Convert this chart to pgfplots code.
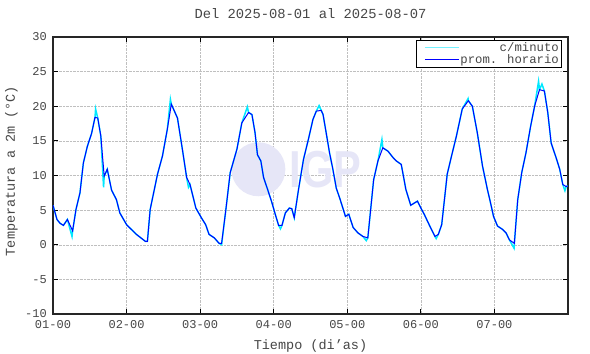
\documentclass[border=0pt]{standalone}
\usepackage{fontspec}
\setmainfont{Liberation Mono}
\newfontfamily\wmfont{Liberation Sans}
\usepackage{pgfplots}
\pgfplotsset{compat=1.18}
\definecolor{txt}{RGB}{70,70,70}
\definecolor{cmin}{RGB}{0,232,255}
\definecolor{wm}{RGB}{230,230,247}
\begin{document}
\begin{tikzpicture}
\path[use as bounding box] (-53pt,-40pt) rectangle (537pt,314pt);
\begin{axis}[
  at={(0pt,0pt)}, anchor=south west,
  scale only axis, width=515pt, height=277pt,
  xmin=0, xmax=168, ymin=-10, ymax=30,
  xtick={0,24,48,72,96,120,144},
  xticklabels={01-00,02-00,03-00,04-00,05-00,06-00,07-00},
  ytick={-10,-5,0,5,10,15,20,25,30},
  grid=major, grid style={densely dotted, gray!50, line width=0.5pt},
  tick align=inside, major tick length=5pt,
  tick style={black, line width=0.8pt},
  axis line style={line width=1.3pt, black!85},
  /pgf/number format/assume math mode=true,
  ticklabel style={font=\fontsize{12}{12}\selectfont, text=txt},
  xticklabel style={anchor=base, yshift=-14pt},
  yticklabel style={anchor=east, inner sep=0pt, xshift=-6pt},
  xlabel={Tiempo (di'as)},
  ylabel={Temperatura a 2m (°C)},
  xlabel style={at={(axis description cs:0.5,0)}, anchor=base, yshift=-35.5pt, font=\fontsize{13.5}{14}\selectfont, text=txt},
  ylabel style={at={(axis description cs:-0.0738,0.516)}, anchor=base, rotate=0, font=\fontsize{13.5}{14}\selectfont, text=txt},
  title={Del 2025-08-01 al 2025-08-07},
  title style={at={(axis description cs:0.5,1)}, anchor=base, yshift=13pt, font=\fontsize{13.8}{14}\selectfont, text=txt},
  legend cell align=right,
  legend style={at={(rel axis cs:0.9864,0.989)}, anchor=north east,
    font=\fontsize{12.3}{13}\selectfont, inner sep=1pt, row sep=0pt,
    nodes={inner sep=1pt, text=txt}},
]
\fill[wm] (axis cs:67,10.9) circle[radius=27pt];
\node[text=wm, font=\wmfont\bfseries\fontsize{52}{52}\selectfont, xscale=0.8] at (axis cs:89,10.9) {IGP};
\addplot[cmin, line width=1.5pt, forget plot] coordinates {
(0,5.7) (1.3,3.65) (2.3,3.1) (3.4,2.8) (4.7,3.65) (6.2,1.2) (6.4,2.0) (7.5,5.1) (8.8,7.5) (9.9,11.8)
(11.2,14.2) (12.6,16.1) (13.7,18.4) (13.9,19.6) (14.6,18.3) (15.6,15.7) (16.5,8.3) (16.7,9.9) (17.7,10.9)
(19.1,7.9) (20.7,6.5) (21.8,4.6) (24.0,2.9) (27.2,1.5) (30.1,0.5) (30.8,0.5) (31.7,5.1) (34.1,10.2)
(35.7,12.8) (37.3,16.7) (38.3,21.0) (38.6,20.3) (40.6,18.3) (42.2,13.8) (43.6,9.7) (44.2,8.3) (44.7,8.7)
(46.6,5.3) (48.4,3.9) (49.8,2.9) (50.9,1.5) (52.6,1.0) (54.2,0.2) (55.0,0.0) (56.4,5.1) (57.8,10.4)
(60,13.8) (61.6,17.6) (63.4,19.9) (63.8,19.1) (64.9,18.8) (65.9,16.2) (66.7,13.0) (67.8,12.1) (68.7,9.7)
(70,8.0) (71.4,6.1) (72.5,4.4) (73.6,2.8) (74.2,2.3) (74.7,2.8) (75.8,4.6) (77.1,5.3) (77.9,5.2) (78.7,3.9)
(80.1,8.0) (81.7,12.3) (83.3,15.2) (84.8,18.1) (85.9,19.3) (86.8,20.1) (87.5,19.4) (88.1,18.8) (89.1,16.2)
(90.2,13.3) (91.3,10.9) (92.4,8.2) (93.7,6.5) (95.4,4.1) (96.5,4.4) (97.9,2.5) (99.5,1.7) (101.1,1.2)
(102.2,0.6) (102.7,1.0) (104.6,9.4) (106,12.1) (107.3,15.2) (107.6,14.0) (109.3,13.5) (110.9,12.6)
(112,12.1) (113.6,11.6) (114.4,9.7) (115.1,8.0) (116.7,5.7) (118.9,6.3) (120,5.3) (121.1,4.4) (122.7,2.9)
(124.6,1.2) (125.0,0.9) (125.7,1.5) (126.8,2.9) (128.6,10.2) (130,12.8) (131.6,15.7) (133.5,19.6)
(135.4,21.1) (135.5,20.8) (136.8,20.0) (138.4,16.2) (140.1,11.4) (141.7,8.0) (142.6,6.3) (143.7,4.1)
(145,2.7) (146.7,2.2) (147.8,1.7) (148.9,0.7) (150.4,-0.5) (150.5,0.2) (151.6,6.5) (152.9,10.4)
(154.3,13.3) (155.8,17.1) (157.1,20.0) (158.4,23.6) (158.7,22.4) (159.5,23.2) (160.3,22.2) (161.4,19.1)
(162.5,14.7) (164.1,12.6) (165.3,10.9) (166.3,8.7) (167.0,7.8) (167.4,8.4) (167.9,8.5)
};
\addplot[blue, line width=1pt, forget plot] coordinates {
(0,5.7) (1.3,3.65) (2.3,3.1) (3.4,2.8) (4.7,3.65) (6.4,2.0) (7.5,5.1) (8.8,7.5) (9.9,11.8)
(11.2,14.2) (12.6,16.1) (13.7,18.4) (14.6,18.3) (15.6,15.7) (16.7,9.9) (17.7,10.9)
(19.1,7.9) (20.7,6.5) (21.8,4.6) (24.0,2.9) (27.2,1.5) (30.1,0.5) (30.8,0.5) (31.7,5.1) (34.1,10.2)
(35.7,12.8) (37.3,16.7) (38.6,20.3) (40.6,18.3) (42.2,13.8) (43.6,9.7) (44.7,8.7)
(46.6,5.3) (48.4,3.9) (49.8,2.9) (50.9,1.5) (52.6,1.0) (54.2,0.2) (55.0,0.2) (56.4,5.1) (57.8,10.4)
(60,13.8) (61.6,17.6) (63.8,19.1) (64.9,18.8) (65.9,16.2) (66.7,13.0) (67.8,12.1) (68.7,9.7)
(70,8.0) (71.4,6.1) (72.5,4.4) (73.6,2.8) (74.7,2.8) (75.8,4.6) (77.1,5.3) (77.9,5.2) (78.7,3.9)
(80.1,8.0) (81.7,12.3) (83.3,15.2) (84.8,18.1) (85.9,19.3) (87.5,19.4) (88.1,18.8) (89.1,16.2)
(90.2,13.3) (91.3,10.9) (92.4,8.2) (93.7,6.5) (95.4,4.1) (96.5,4.4) (97.9,2.5) (99.5,1.7) (101.1,1.2)
(102.7,1.0) (104.6,9.4) (106,12.1) (107.6,14.0) (109.3,13.5) (110.9,12.6)
(112,12.1) (113.6,11.6) (114.4,9.7) (115.1,8.0) (116.7,5.7) (118.9,6.3) (120,5.3) (121.1,4.4) (122.7,2.9)
(124.6,1.2) (125.7,1.5) (126.8,2.9) (128.6,10.2) (130,12.8) (131.6,15.7) (133.5,19.6)
(135.5,20.8) (136.8,20.0) (138.4,16.2) (140.1,11.4) (141.7,8.0) (142.6,6.3) (143.7,4.1)
(145,2.7) (146.7,2.2) (147.8,1.7) (148.9,0.7) (150.5,0.2) (151.6,6.5) (152.9,10.4)
(154.3,13.3) (155.8,17.1) (157.1,20.0) (158.7,22.4) (160.3,22.2) (161.4,19.1)
(162.5,14.7) (164.1,12.6) (165.3,10.9) (166.3,8.7) (167.4,8.4) (167.9,8.5)
};
\addlegendimage{legend image code/.code={\path (-7pt,0pt); \draw[cmin!55, line width=1pt] (0pt,0pt) -- (34pt,0pt);}}
\addlegendentry{c/minuto}
\addlegendimage{legend image code/.code={\path (-7pt,0pt); \draw[blue, line width=1pt] (0pt,0pt) -- (34pt,0pt);}}
\addlegendentry{prom. horario}
\end{axis}
\end{tikzpicture}
\end{document}
